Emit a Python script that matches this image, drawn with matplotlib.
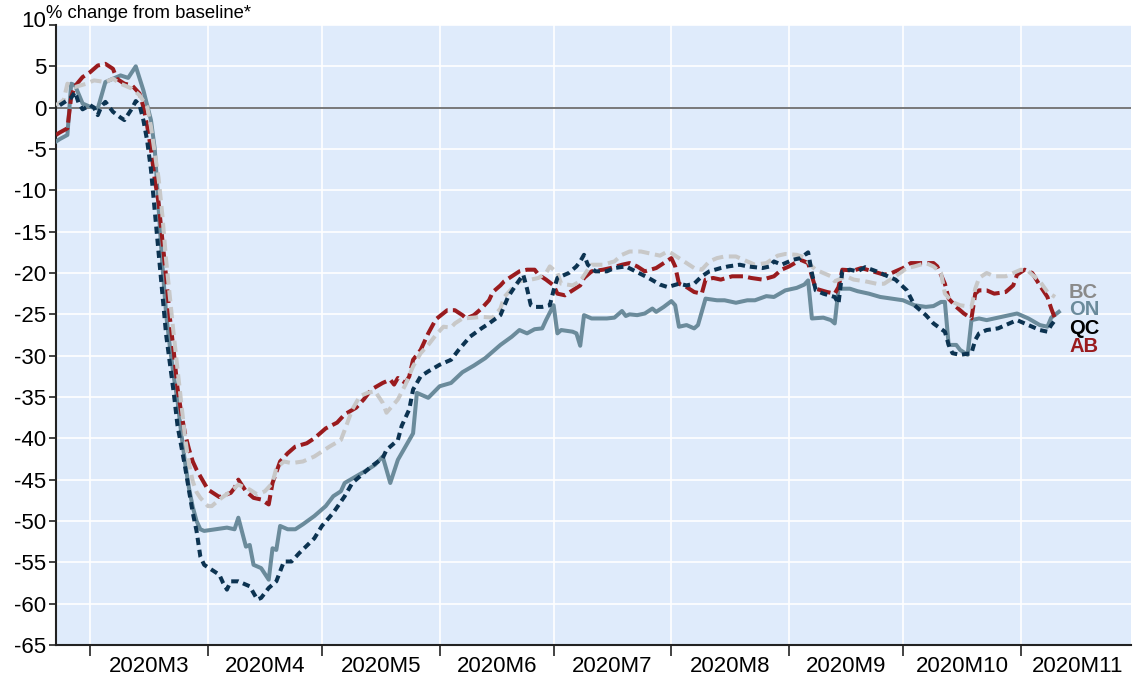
import matplotlib
matplotlib.use("Agg")
import matplotlib.pyplot as plt
import matplotlib.transforms as mtransforms
import pandas as pd

plt.rcParams['font.family'] = ['Liberation Sans', 'DejaVu Sans']

# ---------------- data ----------------
on_dates = ['2020-02-21','2020-02-22','2020-02-24','2020-02-25','2020-02-26','2020-02-28','2020-03-01','2020-03-03',
    '2020-03-05','2020-03-09','2020-03-11','2020-03-13','2020-03-15','2020-03-16','2020-03-17','2020-03-18','2020-03-19',
    '2020-03-20','2020-03-21','2020-03-22','2020-03-23','2020-03-24','2020-03-25','2020-03-26','2020-03-27','2020-03-28',
    '2020-03-29','2020-03-30','2020-03-31','2020-04-03','2020-04-06','2020-04-08','2020-04-09','2020-04-11','2020-04-12',
    '2020-04-13','2020-04-15','2020-04-17','2020-04-18','2020-04-19','2020-04-20','2020-04-22','2020-04-24','2020-04-26',
    '2020-04-29','2020-04-30','2020-05-02','2020-05-04','2020-05-06','2020-05-07','2020-05-10','2020-05-13','2020-05-15',
    '2020-05-17','2020-05-19','2020-05-21','2020-05-23','2020-05-25','2020-05-26','2020-05-29','2020-06-01','2020-06-04',
    '2020-06-07','2020-06-10','2020-06-13','2020-06-17','2020-06-20','2020-06-22','2020-06-24','2020-06-26','2020-06-28',
    '2020-06-29','2020-07-01','2020-07-02','2020-07-03','2020-07-06','2020-07-07','2020-07-08','2020-07-09','2020-07-11',
    '2020-07-15','2020-07-17','2020-07-19','2020-07-20','2020-07-21','2020-07-23','2020-07-25','2020-07-27','2020-07-28',
    '2020-07-30','2020-08-01','2020-08-02','2020-08-03','2020-08-05','2020-08-07','2020-08-08','2020-08-10','2020-08-13',
    '2020-08-15','2020-08-18','2020-08-21','2020-08-23','2020-08-26','2020-08-28','2020-08-31','2020-09-03','2020-09-05',
    '2020-09-06','2020-09-07','2020-09-10','2020-09-12','2020-09-13','2020-09-14','2020-09-17','2020-09-19','2020-09-22',
    '2020-09-25','2020-09-28','2020-10-01','2020-10-04','2020-10-07','2020-10-09','2020-10-11','2020-10-12','2020-10-13',
    '2020-10-15','2020-10-16','2020-10-18','2020-10-19','2020-10-21','2020-10-23','2020-10-26','2020-10-29','2020-10-31',
    '2020-11-03','2020-11-06','2020-11-08','2020-11-09','2020-11-11']
on_vals = [-4.1,-3.8,-3.3,2.9,2.7,0.5,0.1,-0.1,
    3.1,3.9,3.6,5.0,2.1,0.3,-1.5,-5.0,-12.0,
    -19.0,-25.0,-29.0,-32.5,-35.5,-39.5,-43.0,-46.0,-48.3,
    -50.0,-51.0,-51.2,-51.0,-50.8,-51.0,-49.6,-53.1,-52.9,
    -55.3,-55.7,-57.1,-53.3,-53.5,-50.6,-51.0,-51.0,-50.4,
    -49.4,-49.0,-48.2,-47.0,-46.4,-45.4,-44.6,-43.8,-43.2,
    -42.2,-45.4,-42.6,-41.0,-39.4,-34.5,-35.1,-33.7,-33.3,
    -32.0,-31.2,-30.3,-28.7,-27.7,-26.9,-27.3,-26.8,-26.7,
    -25.7,-23.9,-27.3,-26.9,-27.1,-27.3,-28.8,-25.1,-25.5,
    -25.5,-25.4,-24.6,-25.2,-25.0,-25.1,-24.9,-24.3,-24.7,
    -24.1,-23.4,-23.9,-26.5,-26.3,-26.7,-26.3,-23.1,-23.3,
    -23.3,-23.6,-23.3,-23.3,-22.8,-22.9,-22.1,-21.8,-21.4,
    -20.9,-25.5,-25.4,-25.7,-26.1,-21.9,-21.9,-22.2,-22.5,
    -22.9,-23.1,-23.3,-23.9,-24.1,-24.0,-23.5,-23.5,-28.7,
    -28.7,-29.3,-29.9,-25.7,-25.5,-25.7,-25.4,-25.1,-24.9,
    -25.5,-26.3,-26.5,-25.4,-24.7]

qc_dates = ['2020-02-22','2020-02-24','2020-02-25','2020-02-26','2020-02-27','2020-02-28','2020-03-01','2020-03-02',
    '2020-03-03','2020-03-04','2020-03-05','2020-03-07','2020-03-09','2020-03-10','2020-03-12','2020-03-13','2020-03-14',
    '2020-03-15','2020-03-16','2020-03-17','2020-03-18','2020-03-19','2020-03-20','2020-03-21','2020-03-22','2020-03-23',
    '2020-03-24','2020-03-25','2020-03-26','2020-03-27','2020-03-28','2020-03-29','2020-03-30','2020-03-31','2020-04-02',
    '2020-04-04','2020-04-05','2020-04-06','2020-04-07','2020-04-09','2020-04-12','2020-04-14','2020-04-15','2020-04-17',
    '2020-04-19','2020-04-21','2020-04-23','2020-04-25','2020-04-29','2020-05-01','2020-05-04','2020-05-07','2020-05-09',
    '2020-05-12','2020-05-14','2020-05-17','2020-05-18','2020-05-21','2020-05-22','2020-05-24','2020-05-25','2020-05-27',
    '2020-05-29','2020-06-01','2020-06-04','2020-06-06','2020-06-09','2020-06-12','2020-06-14','2020-06-17','2020-06-19',
    '2020-06-21','2020-06-23','2020-06-24','2020-06-25','2020-06-26','2020-06-28','2020-06-30','2020-07-01','2020-07-02',
    '2020-07-05','2020-07-07','2020-07-08','2020-07-09','2020-07-10','2020-07-12','2020-07-15','2020-07-17','2020-07-20',
    '2020-07-23','2020-07-26','2020-07-29','2020-07-31','2020-08-03','2020-08-05','2020-08-07','2020-08-09','2020-08-11',
    '2020-08-14','2020-08-16','2020-08-19','2020-08-21','2020-08-25','2020-08-27','2020-08-28','2020-08-30','2020-09-02',
    '2020-09-04','2020-09-06','2020-09-07','2020-09-08','2020-09-10','2020-09-13','2020-09-14','2020-09-15','2020-09-17',
    '2020-09-19','2020-09-21','2020-09-24','2020-09-26','2020-09-29','2020-10-02','2020-10-04','2020-10-07','2020-10-09',
    '2020-10-12','2020-10-13','2020-10-14','2020-10-16','2020-10-19','2020-10-20','2020-10-21','2020-10-23','2020-10-26',
    '2020-10-29','2020-10-31','2020-11-03','2020-11-06','2020-11-08','2020-11-09','2020-11-10']
qc_vals = [0.3,0.9,1.2,1.9,0.5,-0.2,0.3,0.0,
    -0.9,0.2,0.7,-0.5,-1.2,-1.5,-0.1,0.8,0.3,
    -1.5,-4.0,-7.5,-12.5,-17.5,-22.5,-27.5,-31.0,-34.5,
    -38.5,-41.0,-43.5,-46.3,-49.0,-51.2,-54.3,-55.3,-55.9,
    -56.5,-57.5,-58.3,-57.3,-57.3,-57.9,-59.5,-59.3,-58.1,
    -57.3,-54.9,-54.9,-53.9,-52.1,-50.6,-49.0,-47.0,-45.4,
    -44.2,-43.4,-42.4,-41.4,-40.2,-38.5,-36.5,-34.1,-32.5,
    -31.9,-31.1,-30.5,-29.3,-27.7,-26.7,-26.1,-25.1,-22.9,
    -21.5,-20.2,-21.9,-23.9,-24.1,-24.1,-23.9,-22.1,-20.6,
    -20.0,-19.2,-18.6,-17.8,-19.0,-19.8,-19.8,-19.4,-19.2,
    -19.9,-20.6,-21.4,-21.7,-21.3,-21.5,-21.3,-20.4,-19.8,
    -19.4,-19.2,-19.0,-19.2,-19.4,-19.2,-18.6,-19.0,-18.4,
    -18.2,-17.5,-20.0,-22.1,-22.5,-22.9,-23.7,-19.8,-19.6,
    -19.8,-19.3,-19.8,-20.2,-20.8,-22.1,-23.9,-25.1,-26.1,
    -27.1,-28.7,-29.7,-29.9,-29.7,-28.1,-27.3,-26.9,-26.7,
    -26.1,-25.7,-26.3,-26.9,-27.1,-26.3,-25.7]

ab_dates = ['2020-02-21','2020-02-22','2020-02-24','2020-02-25','2020-02-26','2020-02-28','2020-03-01','2020-03-03',
    '2020-03-05','2020-03-07','2020-03-08','2020-03-10','2020-03-12','2020-03-14','2020-03-15','2020-03-16','2020-03-17',
    '2020-03-18','2020-03-19','2020-03-20','2020-03-21','2020-03-22','2020-03-23','2020-03-24','2020-03-25','2020-03-26',
    '2020-03-27','2020-03-28','2020-03-29','2020-03-30','2020-04-01','2020-04-04','2020-04-07','2020-04-08','2020-04-09',
    '2020-04-11','2020-04-13','2020-04-15','2020-04-17','2020-04-18','2020-04-20','2020-04-22','2020-04-24','2020-04-27',
    '2020-04-29','2020-05-02','2020-05-05','2020-05-07','2020-05-10','2020-05-12','2020-05-14','2020-05-17','2020-05-19',
    '2020-05-20','2020-05-21','2020-05-23','2020-05-24','2020-05-25','2020-05-27','2020-05-29','2020-05-31','2020-06-03',
    '2020-06-05','2020-06-07','2020-06-08','2020-06-10','2020-06-12','2020-06-14','2020-06-15','2020-06-17','2020-06-18',
    '2020-06-20','2020-06-22','2020-06-24','2020-06-26','2020-06-27','2020-06-29','2020-07-01','2020-07-02','2020-07-04',
    '2020-07-06','2020-07-08','2020-07-09','2020-07-11','2020-07-14','2020-07-16','2020-07-19','2020-07-21','2020-07-23',
    '2020-07-25','2020-07-28','2020-07-30','2020-08-01','2020-08-02','2020-08-03','2020-08-05','2020-08-07','2020-08-09',
    '2020-08-10','2020-08-12','2020-08-14','2020-08-17','2020-08-20','2020-08-22','2020-08-25','2020-08-28','2020-08-30',
    '2020-09-01','2020-09-04','2020-09-05','2020-09-06','2020-09-07','2020-09-08','2020-09-11','2020-09-13','2020-09-14',
    '2020-09-15','2020-09-18','2020-09-20','2020-09-23','2020-09-26','2020-09-28','2020-10-01','2020-10-03','2020-10-06',
    '2020-10-09','2020-10-10','2020-10-12','2020-10-13','2020-10-15','2020-10-17','2020-10-19','2020-10-20','2020-10-21',
    '2020-10-23','2020-10-25','2020-10-28','2020-10-30','2020-10-31','2020-11-02','2020-11-04','2020-11-06','2020-11-08',
    '2020-11-09','2020-11-10']
ab_vals = [-3.3,-3.0,-2.5,1.3,2.6,3.7,4.3,5.1,
    5.3,4.7,3.5,2.9,2.7,1.7,0.1,-2.2,-5.0,
    -8.7,-11.5,-16.0,-20.5,-25.5,-29.5,-34.0,-37.0,-39.5,
    -41.3,-42.8,-43.8,-44.6,-46.2,-47.1,-46.6,-46.0,-45.0,
    -46.4,-47.2,-47.4,-48.0,-45.4,-42.8,-41.8,-41.0,-40.6,
    -40.0,-38.8,-38.1,-37.1,-36.3,-35.3,-34.1,-33.3,-32.9,
    -33.5,-32.7,-33.3,-32.5,-30.5,-29.3,-27.3,-25.6,-24.5,
    -24.5,-25.1,-25.5,-25.1,-24.3,-23.3,-22.3,-21.5,-21.0,
    -20.4,-19.8,-19.6,-19.6,-20.2,-20.8,-21.5,-22.5,-22.7,
    -22.1,-21.5,-20.6,-19.8,-19.6,-19.4,-19.0,-18.8,-19.2,
    -19.8,-19.4,-18.8,-18.2,-19.2,-21.3,-21.7,-22.3,-22.5,
    -20.8,-20.6,-20.8,-20.4,-20.4,-20.6,-20.8,-20.4,-19.6,
    -19.2,-18.4,-18.6,-18.8,-20.4,-21.9,-22.3,-22.5,-21.7,
    -19.6,-19.7,-19.4,-19.8,-20.2,-20.0,-19.4,-18.8,-18.8,
    -18.8,-19.2,-21.3,-23.1,-24.1,-24.9,-25.5,-22.5,-22.1,
    -22.1,-22.5,-22.3,-21.5,-20.2,-19.6,-20.0,-21.5,-22.9,
    -24.3,-25.5]

bc_dates = ['2020-02-21','2020-02-23','2020-02-24','2020-02-26','2020-02-29','2020-03-02','2020-03-05','2020-03-07',
    '2020-03-09','2020-03-12','2020-03-14','2020-03-16','2020-03-17','2020-03-18','2020-03-19','2020-03-20','2020-03-21',
    '2020-03-22','2020-03-23','2020-03-24','2020-03-25','2020-03-26','2020-03-27','2020-03-28','2020-03-29','2020-03-30',
    '2020-04-01','2020-04-02','2020-04-04','2020-04-07','2020-04-09','2020-04-12','2020-04-14','2020-04-16','2020-04-18',
    '2020-04-19','2020-04-21','2020-04-23','2020-04-26','2020-04-29','2020-05-01','2020-05-03','2020-05-06','2020-05-07',
    '2020-05-09','2020-05-11','2020-05-13','2020-05-15','2020-05-17','2020-05-18','2020-05-21','2020-05-23','2020-05-25',
    '2020-05-27','2020-05-29','2020-05-31','2020-06-02','2020-06-04','2020-06-05','2020-06-07','2020-06-10','2020-06-12',
    '2020-06-15','2020-06-17','2020-06-18','2020-06-20','2020-06-22','2020-06-25','2020-06-27','2020-06-29','2020-06-30',
    '2020-07-02','2020-07-03','2020-07-06','2020-07-08','2020-07-10','2020-07-11','2020-07-14','2020-07-17','2020-07-19',
    '2020-07-21','2020-07-24','2020-07-26','2020-07-29','2020-07-31','2020-08-01','2020-08-03','2020-08-05','2020-08-07',
    '2020-08-09','2020-08-11','2020-08-13','2020-08-15','2020-08-18','2020-08-21','2020-08-23','2020-08-26','2020-08-29',
    '2020-08-31','2020-09-03','2020-09-05','2020-09-07','2020-09-08','2020-09-10','2020-09-12','2020-09-13','2020-09-16',
    '2020-09-18','2020-09-21','2020-09-24','2020-09-26','2020-09-29','2020-10-02','2020-10-04','2020-10-07','2020-10-09',
    '2020-10-11','2020-10-12','2020-10-14','2020-10-16','2020-10-19','2020-10-20','2020-10-21','2020-10-23','2020-10-25',
    '2020-10-28','2020-10-30','2020-11-01','2020-11-03','2020-11-06','2020-11-08','2020-11-10']
bc_vals = [0.3,0.9,2.9,2.5,2.9,3.3,3.1,3.5,
    2.9,2.3,1.5,0.1,-2.3,-5.5,-8.5,-13.0,-18.5,
    -23.0,-27.5,-31.7,-36.0,-40.0,-43.0,-45.2,-46.5,-47.2,
    -48.2,-48.2,-47.4,-46.4,-45.6,-46.2,-46.8,-46.4,-45.4,
    -43.6,-42.8,-43.0,-42.8,-42.2,-41.6,-41.0,-40.2,-39.0,
    -36.5,-34.9,-34.5,-34.3,-35.7,-36.9,-35.3,-33.5,-31.3,
    -29.7,-28.7,-27.5,-26.5,-26.6,-26.1,-25.5,-25.4,-25.3,
    -25.4,-24.3,-22.9,-21.9,-21.0,-20.8,-20.6,-20.0,-19.2,
    -20.0,-21.3,-21.5,-21.0,-19.6,-19.0,-19.0,-18.6,-17.8,
    -17.4,-17.4,-17.6,-17.9,-17.4,-17.6,-18.2,-18.8,-19.4,
    -19.6,-18.6,-18.2,-18.0,-18.0,-18.6,-19.0,-18.8,-17.9,
    -17.7,-17.8,-18.1,-19.2,-19.6,-20.0,-20.4,-21.0,-20.4,
    -20.8,-21.0,-21.3,-21.3,-20.4,-19.4,-19.2,-18.8,-19.2,
    -20.0,-22.5,-23.5,-23.9,-24.1,-21.9,-20.6,-20.0,-20.4,
    -20.4,-20.0,-19.6,-19.8,-21.0,-22.3,-22.9]

month_starts = ['2020-03-01','2020-04-01','2020-05-01','2020-06-01','2020-07-01',
                '2020-08-01','2020-09-01','2020-10-01','2020-11-01','2020-12-01']
month_labels = ['2020M3','2020M4','2020M5','2020M6','2020M7','2020M8','2020M9','2020M10','2020M11']
y_ticks = list(range(-65, 11, 5))
x_start, x_end = '2020-02-21', '2020-11-30'

# ---------------- styling ----------------
BG = '#dfebfb'
C_BC, C_ON, C_QC, C_AB = '#c8c8c8', '#6b8b9b', '#0c3351', '#9a1b1e'

W, H = 1133, 679
fig = plt.figure(figsize=(W/100, H/100), dpi=100)
ax = fig.add_axes([56/W, 1-645/H, (1131-56)/W, (645-25)/H])
ax.set_facecolor(BG)

lw = 2.9
ax.plot(pd.to_datetime(on_dates), on_vals, color=C_ON, lw=lw, solid_joinstyle='round', zorder=3)
ax.plot(pd.to_datetime(ab_dates), ab_vals, color=C_AB, lw=lw, dashes=(3.4, 1.3), zorder=4)
ax.plot(pd.to_datetime(bc_dates), bc_vals, color=C_BC, lw=lw, dashes=(2.8, 1.4), zorder=5)
ax.plot(pd.to_datetime(qc_dates), qc_vals, color=C_QC, lw=lw, dashes=(1.8, 1.2), zorder=6)

ax.axhline(0, color='#6e6e6e', lw=1.3, zorder=2)

ax.set_ylim(-65, 10)
ax.set_xlim(pd.Timestamp(x_start), pd.Timestamp(x_end))
ax.set_yticks(y_ticks)
ax.set_yticklabels([str(v) for v in y_ticks], fontsize=16)

ms = pd.to_datetime(month_starts)
ax.set_xticks(ms[:-1])
ax.set_xticklabels([])
mids = [ms[i] + (ms[i+1] - ms[i]) / 2 for i in range(len(ms)-1)]
ax.set_xticks(mids, minor=True)
ax.set_xticklabels(month_labels, minor=True, fontsize=16)
ax.tick_params(axis='x', which='major', length=8, width=1.2, direction='out', color='#222222')
ax.tick_params(axis='x', which='minor', length=0, pad=8)
ax.tick_params(axis='y', length=5, width=1.2, direction='out', pad=2, color='#222222')

# top y label sits a little above the axis top in the reference
top_lbl = ax.get_yticklabels()[-1]
top_lbl.set_transform(top_lbl.get_transform() +
                      mtransforms.ScaledTranslation(0, 6/100, fig.dpi_scale_trans))

ax.grid(True, which='major', color='white', lw=1.2, zorder=1)
ax.set_axisbelow(True)

for s in ['top', 'right']:
    ax.spines[s].set_visible(False)
for s in ['left', 'bottom']:
    ax.spines[s].set_color('#222222')
    ax.spines[s].set_linewidth(1.5)

fig.text(46/W, 1-13/H, '% change from baseline*', fontsize=13.3, va='center', ha='left')

labels = [('BC', '#8a8a8a', 292), ('ON', C_ON, 310), ('QC', '#000000', 328), ('AB', C_AB, 346)]
for t, c, yp in labels:
    fig.text(1069/W, 1-yp/H, t, color=c, fontsize=14.5, fontweight='bold', va='center', ha='left')

fig.savefig('out.png', dpi=100)
